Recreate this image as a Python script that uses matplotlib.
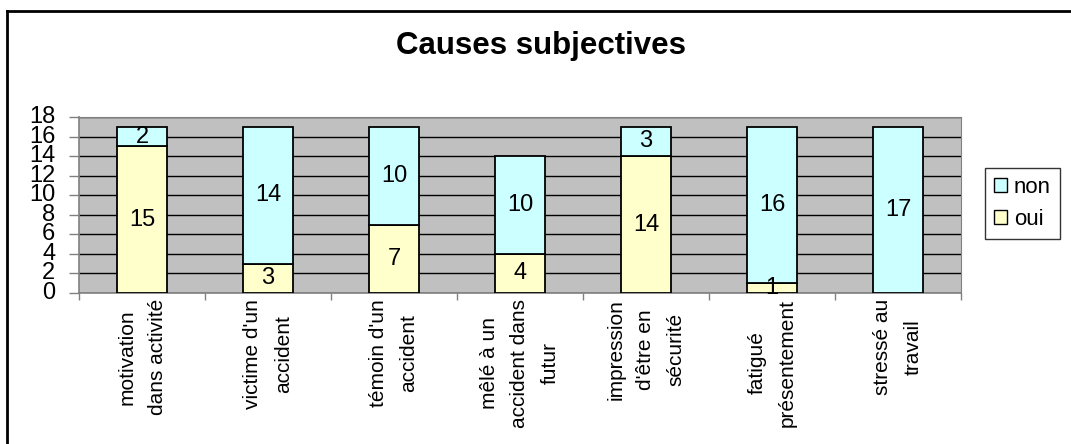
import matplotlib
matplotlib.use("Agg")
from matplotlib import pyplot as plt
from matplotlib.lines import Line2D
import numpy as np

# categories (x axis), stacked values
CATEGORIES = [
    "motivation\ndans activité",
    "victime d'un\naccident",
    "témoin d'un\naccident",
    "mêlé à un\naccident dans\nfutur",
    "impression\nd'être en\nsécurité",
    "fatigué\nprésentement",
    "stressé au\ntravail",
]
OUI = [15, 3, 7, 4, 14, 1, 0]
NON = [2, 14, 10, 10, 3, 16, 17]
Y_TICKS = list(range(0, 19, 2))
TITLE = "Causes subjectives"

COLOR_OUI = "#FFFFCC"
COLOR_NON = "#CCFFFF"
FONT = "Liberation Sans"

plt.rcParams.update({"font.family": FONT})

W, H = 1071, 444
fig = plt.figure(figsize=(W / 100, H / 100), dpi=100)

# plot area in pixel coordinates
left, right, top, bottom = 79, 961, 117, 293
ax = fig.add_axes([left / W, 1 - bottom / H, (right - left) / W, (bottom - top) / H])
ax.set_facecolor("#C0C0C0")

x = np.arange(len(CATEGORIES))
oui = np.array(OUI)
non = np.array(NON)
bw = 0.4
b1 = ax.bar(x, oui, bw, color=COLOR_OUI, edgecolor="black", linewidth=1.3, label="oui", zorder=3)
b2 = ax.bar(x, non, bw, bottom=oui, color=COLOR_NON, edgecolor="black", linewidth=1.3, label="non", zorder=3)

for i in range(len(x)):
    if oui[i] > 0:
        ax.text(x[i], oui[i] / 2, str(oui[i]), ha="center", va="center", fontsize=17, zorder=4)
    if non[i] > 0:
        ax.text(x[i], oui[i] + non[i] / 2, str(non[i]), ha="center", va="center", fontsize=17, zorder=4)

ax.set_xlim(-0.5, len(CATEGORIES) - 0.5)
ax.set_ylim(0, 18)
ax.set_yticks(Y_TICKS)
ax.yaxis.grid(True, color="black", linewidth=1.0, zorder=1)
ax.set_axisbelow(True)
ax.tick_params(axis="y", labelsize=17, length=7, width=1, pad=10, color="#808080")
for t in ax.get_yticklabels():
    t.set_verticalalignment("center")

# category ticks between groups, labels at centres
ax.set_xticks(np.arange(len(CATEGORIES) + 1) - 0.5)
ax.set_xticklabels([])
ax.tick_params(axis="x", length=5, width=1, direction="out", color="#808080")
for i, lab in enumerate(CATEGORIES):
    ax.text(x[i], -0.6, lab, rotation=90, ha="center", va="top", multialignment="center",
            fontsize=15, linespacing=1.75, transform=ax.transData)

for s in ["top", "right"]:
    ax.spines[s].set_color("#808080")
for s in ["left", "bottom"]:
    ax.spines[s].set_color("#808080")
    ax.spines[s].set_linewidth(1.2)

fig.text(541 / W, 1 - 46 / H, TITLE, ha="center", va="center", fontsize=22.5, fontweight="bold")

leg = fig.legend(handles=[b2, b1], labels=["non", "oui"], loc="upper left",
                 bbox_to_anchor=(985 / W, 1 - 168 / H), fontsize=16, frameon=True,
                 fancybox=False, edgecolor="black", handlelength=0.6, handleheight=0.6,
                 handletextpad=0.3, borderpad=0.4, labelspacing=0.5, borderaxespad=0)
leg.get_frame().set_linewidth(1.0)
for h in leg.legend_handles:
    h.set_linewidth(1.0)

# outer chart border (top and left edges visible)
fig.add_artist(Line2D([7 / W, 1], [1 - 11 / H, 1 - 11 / H], color="black", linewidth=2, transform=fig.transFigure))
fig.add_artist(Line2D([7 / W, 7 / W], [0, 1 - 11 / H], color="black", linewidth=2, transform=fig.transFigure))

fig.savefig("out.png", dpi=100)
